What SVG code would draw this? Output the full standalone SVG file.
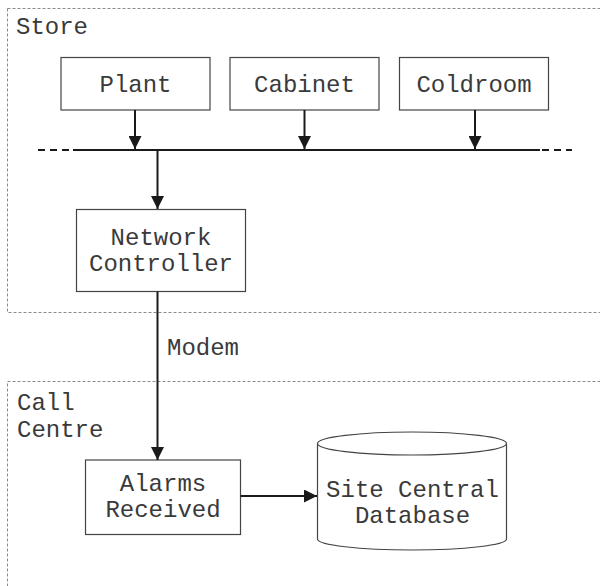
<svg xmlns="http://www.w3.org/2000/svg" width="600" height="586" viewBox="0 0 600 586">
  <style>
    .zone { fill: none; stroke: #8a8a8a; stroke-width: 1; stroke-dasharray: 3 2; }
    .box { fill: #fff; stroke: #444; stroke-width: 1.2; }
    .lbl { font-family: "Liberation Mono", "Courier New", monospace; font-size: 24px; fill: #3a3a3a; }
    .mid { text-anchor: middle; }
    .wire { fill: none; stroke: #1a1a1a; stroke-width: 2; }
  </style>
  <defs>
    <marker id="arrow" viewBox="0 0 13 13" refX="13" refY="6.5" markerWidth="13" markerHeight="13" markerUnits="userSpaceOnUse" orient="auto">
      <path d="M0,0 L13,6.5 L0,13 Z" fill="#1a1a1a"/>
    </marker>
  </defs>
  <rect width="600" height="586" fill="#fff"/>

  <!-- zones -->
  <g id="store">
    <rect class="zone" x="7.5" y="8.5" width="620" height="304"/>
    <text class="lbl" x="16" y="34">Store</text>
  </g>
  <g id="call-centre">
    <rect class="zone" x="7.5" y="381.5" width="620" height="240"/>
    <text class="lbl" x="17" y="410">Call</text>
    <text class="lbl" x="17" y="437">Centre</text>
  </g>

  <!-- nodes -->
  <g id="plant">
    <rect class="box" x="61" y="57.5" width="149" height="52.5"/>
    <text class="lbl mid" x="135.5" y="92">Plant</text>
  </g>
  <g id="cabinet">
    <rect class="box" x="230" y="57.5" width="149" height="52.5"/>
    <text class="lbl mid" x="304.5" y="92">Cabinet</text>
  </g>
  <g id="coldroom">
    <rect class="box" x="399.5" y="57.5" width="149" height="52.5"/>
    <text class="lbl mid" x="474" y="92">Coldroom</text>
  </g>
  <g id="network-controller">
    <rect class="box" x="76.5" y="209.5" width="169" height="82"/>
    <text class="lbl mid" x="161" y="245">Network</text>
    <text class="lbl mid" x="161" y="271">Controller</text>
  </g>
  <g id="alarms-received">
    <rect class="box" x="85.5" y="460" width="155" height="74.5"/>
    <text class="lbl mid" x="163" y="491">Alarms</text>
    <text class="lbl mid" x="163" y="517">Received</text>
  </g>
  <g id="site-central-database">
    <path class="box" d="M317.5,443.5 L317.5,539 A94.5,11 0 0 0 506.5,539 L506.5,443.5"/>
    <ellipse class="box" cx="412" cy="443.5" rx="94.5" ry="11.5"/>
    <text class="lbl mid" x="412.5" y="497">Site Central</text>
    <text class="lbl mid" x="412.5" y="523">Database</text>
  </g>

  <!-- connectors -->
  <g id="connectors">
    <line x1="38" y1="150" x2="572" y2="150" stroke="#1a1a1a" stroke-width="2" stroke-dasharray="7 5"/>
    <line x1="73" y1="150" x2="540" y2="150" stroke="#1a1a1a" stroke-width="2"/>
    <line class="wire" x1="135" y1="110" x2="135" y2="149" marker-end="url(#arrow)"/>
    <line class="wire" x1="304.5" y1="110" x2="304.5" y2="149" marker-end="url(#arrow)"/>
    <line class="wire" x1="475" y1="110" x2="475" y2="149" marker-end="url(#arrow)"/>
    <line class="wire" x1="157.5" y1="150" x2="157.5" y2="209" marker-end="url(#arrow)"/>
    <line class="wire" x1="157.5" y1="291.5" x2="157.5" y2="460" marker-end="url(#arrow)"/>
    <text class="lbl" x="167" y="355">Modem</text>
    <line class="wire" x1="240.5" y1="496" x2="317" y2="496" marker-end="url(#arrow)"/>
  </g>
</svg>
